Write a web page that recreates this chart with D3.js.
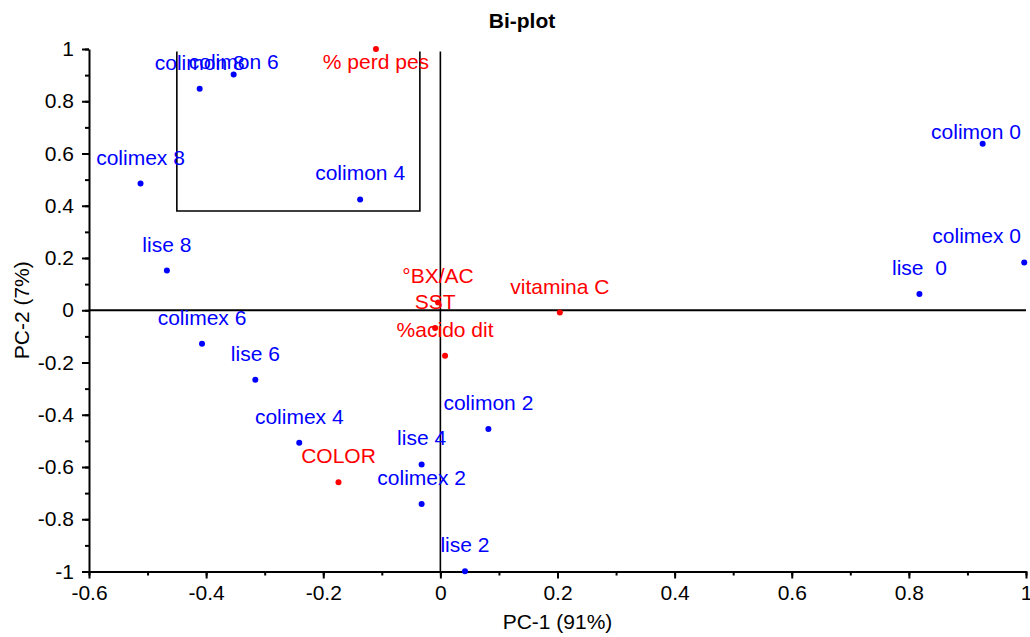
<!DOCTYPE html>
<html>
<head>
<meta charset="utf-8">
<script src="https://cdn.jsdelivr.net/npm/d3@7"></script>
<style>
  body { margin: 0; background: #fff; }
  svg text { font-family: "Liberation Sans", Arial, sans-serif; font-size: 21px; }
</style>
</head>
<body>
<div id="chart"></div>
<script>
// observations (scores)
var obsNames = ['colimon 0', 'colimex 0', 'lise  0', 'colimon 2', 'colimex 2', 'lise 2',
                'colimon 4', 'colimex 4', 'lise 4', 'colimon 6', 'colimex 6', 'lise 6',
                'colimon 8', 'colimex 8', 'lise 8'];
var obsPC1 = [0.926, 0.997, 0.818, 0.082, -0.032, 0.042,
              -0.137, -0.241, -0.032, -0.353, -0.407, -0.316,
              -0.411, -0.512, -0.467];
var obsPC2 = [0.637, 0.183, 0.062, -0.455, -0.742, -0.999,
              0.424, -0.507, -0.590, 0.902, -0.128, -0.266,
              0.848, 0.485, 0.152];

// variables (loadings)
var varNames = ['% perd pes', '°BX/AC', 'SST', '%acido dit', 'vitamina C', 'COLOR'];
var varPC1 = [-0.110, -0.004, -0.009, 0.008, 0.204, -0.174];
var varPC2 = [1.0, 0.03, -0.068, -0.174, -0.009, -0.658];

// selection bracket
var boxX = [-0.450, -0.035];
var boxY = [0.38, 0.99];

var xTicks = [-0.6, -0.4, -0.2, 0, 0.2, 0.4, 0.6, 0.8, 1];
var yTicks = [-1, -0.8, -0.6, -0.4, -0.2, 0, 0.2, 0.4, 0.6, 0.8, 1];

var WIDTH = 1030, HEIGHT = 637,
    LEFT = 89, RIGHT = 1026,
    TOP = 49, BOTTOM = 571.5;

// labels that sit lower than the default spot
var LABEL_NUDGE = {'colimon 0': 14};

var svg = d3.select('#chart').append('svg')
    .attr('width', WIDTH)
    .attr('height', HEIGHT);

var x = d3.scaleLinear().domain([-0.6, 1]).range([LEFT, RIGHT]);
var y = d3.scaleLinear().domain([-1, 1]).range([BOTTOM, TOP]);

var fmt = function(d){ return String(Math.round(d * 10) / 10); };

// minor ticks
svg.append('g')
    .attr('transform', 'translate(0,' + BOTTOM + ')')
    .call(d3.axisBottom(x).tickValues(d3.range(-6, 11).map(function(i){ return i / 10; }))
        .tickSize(4).tickSizeOuter(0).tickFormat(''))
    .call(function(g){ g.select('.domain').remove(); })
    .selectAll('line').attr('stroke-width', 2);

svg.append('g')
    .attr('transform', 'translate(' + LEFT + ',0)')
    .call(d3.axisLeft(y).tickValues(d3.range(-10, 11).map(function(i){ return i / 10; }))
        .tickSize(4).tickSizeOuter(0).tickFormat(''))
    .call(function(g){ g.select('.domain').remove(); })
    .selectAll('line').attr('stroke-width', 2);

// major axes
var xAxis = svg.append('g')
    .attr('transform', 'translate(0,' + BOTTOM + ')')
    .call(d3.axisBottom(x).tickValues(xTicks).tickSize(7).tickSizeOuter(0)
        .tickPadding(7).tickFormat(fmt));

var yAxis = svg.append('g')
    .attr('transform', 'translate(' + LEFT + ',0)')
    .call(d3.axisLeft(y).tickValues(yTicks).tickSize(7).tickSizeOuter(0)
        .tickPadding(8).tickFormat(fmt));

[xAxis, yAxis].forEach(function(g){
    g.attr('font-family', null).attr('font-size', null);
    g.select('.domain').attr('stroke-width', 2);
    g.selectAll('line').attr('stroke-width', 2);
    g.selectAll('text').attr('fill', '#000');
});

// zero lines
svg.append('line')
    .attr('x1', x(-0.6)).attr('x2', x(1))
    .attr('y1', y(0)).attr('y2', y(0))
    .attr('stroke', '#000').attr('stroke-width', 2);

svg.append('line')
    .attr('x1', x(0)).attr('x2', x(0))
    .attr('y1', y(-1)).attr('y2', y(boxY[1]))
    .attr('stroke', '#000').attr('stroke-width', 1.6);

// bracket (no top side)
svg.append('path')
    .attr('d', d3.line()([
        [x(boxX[0]), y(boxY[1])],
        [x(boxX[0]), y(boxY[0])],
        [x(boxX[1]), y(boxY[0])],
        [x(boxX[1]), y(boxY[1])]
    ]))
    .attr('fill', 'none')
    .attr('stroke', '#000')
    .attr('stroke-width', 1.6);

// points + labels
var pts = obsNames.map(function(n, i){ return {name: n, px: obsPC1[i], py: obsPC2[i], c: '#0000ff'}; })
    .concat(varNames.map(function(n, i){ return {name: n, px: varPC1[i], py: varPC2[i], c: '#ff0000'}; }));

svg.append('g').selectAll('circle')
    .data(pts)
    .enter().append('circle')
    .attr('cx', function(d){ return x(d.px); })
    .attr('cy', function(d){ return y(d.py); })
    .attr('r', 3)
    .attr('fill', function(d){ return d.c; });

svg.append('g').selectAll('text')
    .data(pts)
    .enter().append('text')
    .attr('xml:space', 'preserve')
    .style('white-space', 'pre')
    .attr('fill', function(d){ return d.c; })
    .text(function(d){ return d.name; })
    .each(function(d){
        var w = this.getComputedTextLength();
        var cx = x(d.px);
        // keep label inside the plot
        cx = Math.min(cx, RIGHT - 5 - w / 2);
        cx = Math.max(cx, LEFT + 2 + w / 2);
        var by = Math.max(y(d.py) - 19, TOP + 20) + (LABEL_NUDGE[d.name] || 0);
        d3.select(this).attr('x', cx - w / 2).attr('y', by);
    });

// titles
svg.append('text')
    .attr('x', 522).attr('y', 28)
    .attr('text-anchor', 'middle')
    .attr('font-weight', 'bold')
    .text('Bi-plot');

svg.append('text')
    .attr('x', (LEFT + RIGHT) / 2).attr('y', 629)
    .attr('text-anchor', 'middle')
    .text('PC-1 (91%)');

svg.append('text')
    .attr('transform', 'translate(29,' + ((TOP + BOTTOM) / 2) + ') rotate(-90)')
    .attr('text-anchor', 'middle')
    .text('PC-2 (7%)');
</script>
</body>
</html>
